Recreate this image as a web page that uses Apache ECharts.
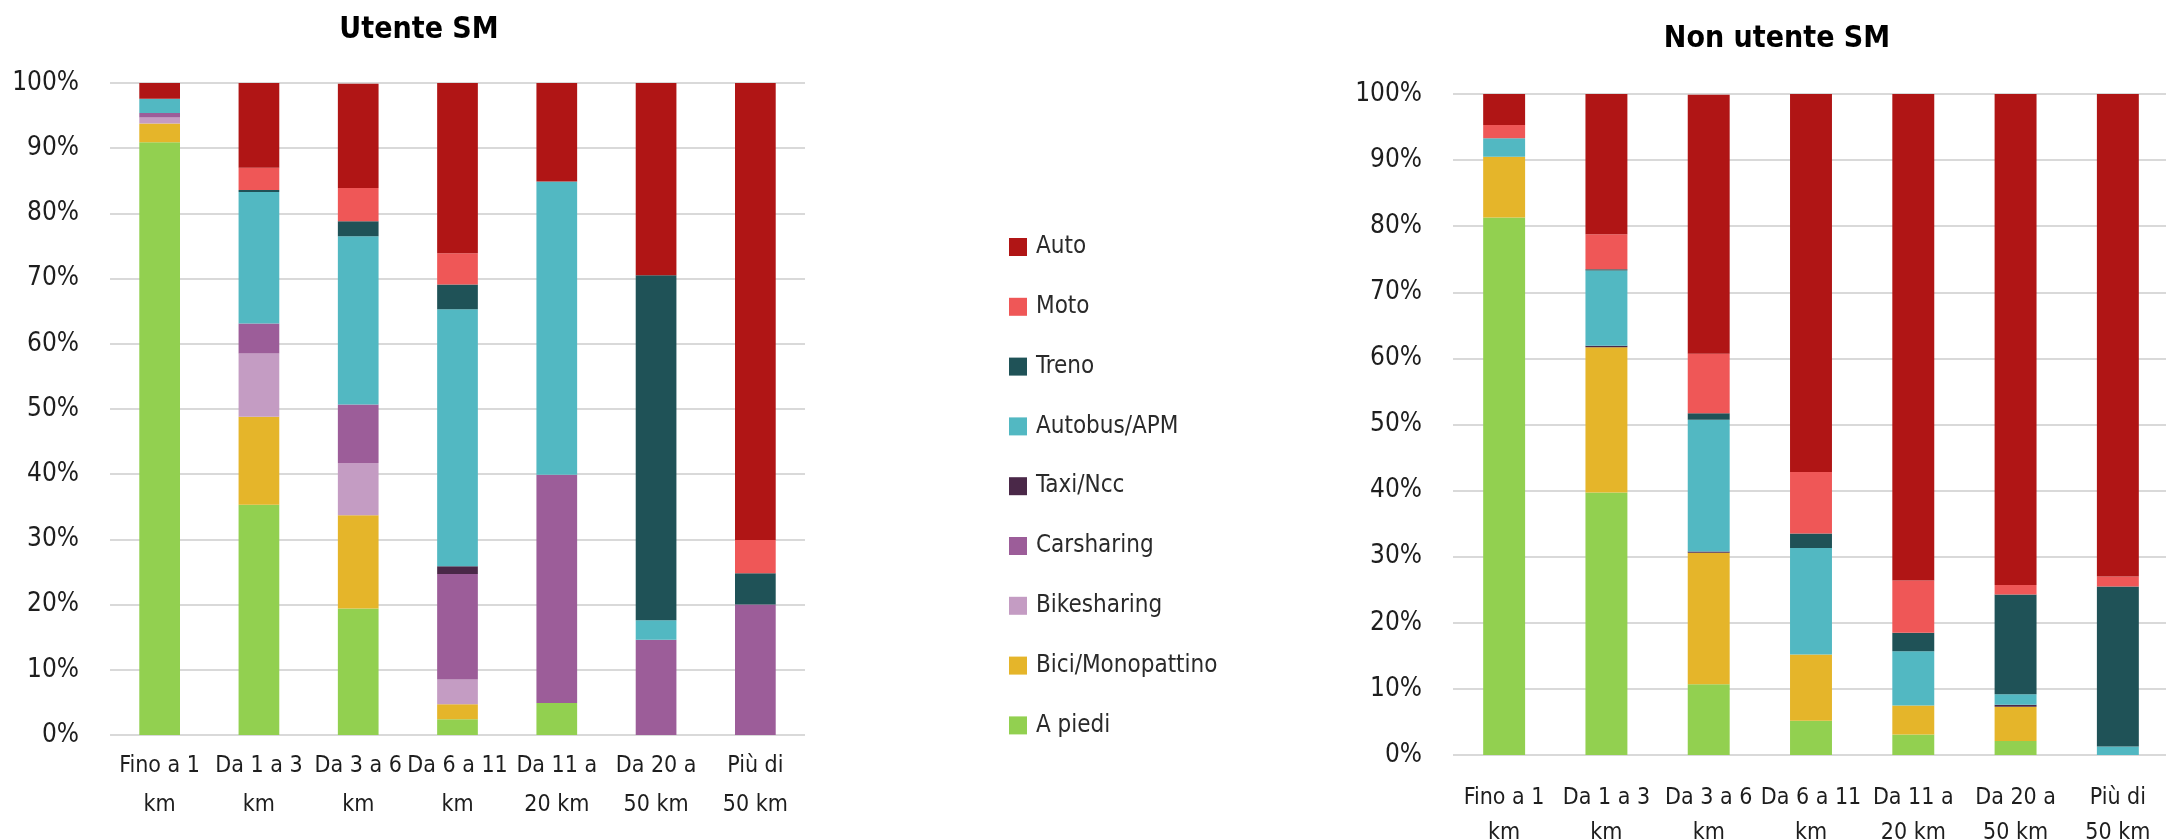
<!DOCTYPE html>
<html>
<head>
<meta charset="utf-8">
<script src="https://cdn.jsdelivr.net/npm/echarts@6/dist/echarts.min.js"></script>
<style>
html,body{margin:0;padding:0;background:#fff;}
#c{width:2166px;height:840px;}
</style>
</head>
<body>
<div id="c"></div>
<script>
// Categories (distance bands)
const categories = ['Fino a 1\nkm','Da 1 a 3\nkm','Da 3 a 6\nkm','Da 6 a 11\nkm','Da 11 a\n20 km','Da 20 a\n50 km','Più di\n50 km'];
const yTicks = [0,10,20,30,40,50,60,70,80,90,100];

// Modes, bottom to top of the stack
const modes = ['A piedi','Bici/Monopattino','Bikesharing','Carsharing','Taxi/Ncc','Autobus/APM','Treno','Moto','Auto'];
const modeColors = ['#92D050','#E5B52A','#C49CC3','#9C5D99','#4A2848','#52B8C2','#1F5257','#EF5757','#B01515'];
const legendOrder = ['Auto','Moto','Treno','Autobus/APM','Taxi/Ncc','Carsharing','Bikesharing','Bici/Monopattino','A piedi'];

// Utente SM (percent)
const utente_APiedi      = [90.9, 35.3, 19.4,  2.4,  4.9,  0.0,  0.0];
const utente_Bici        = [ 2.9, 13.5, 14.3,  2.3,  0.0,  0.0,  0.0];
const utente_Bikesharing = [ 0.9,  9.7,  8.0,  3.8,  0.0,  0.0,  0.0];
const utente_Carsharing  = [ 0.7,  4.6,  9.0, 16.2, 35.0, 14.6, 20.0];
const utente_Taxi        = [ 0.0,  0.0,  0.0,  1.2,  0.0,  0.0,  0.0];
const utente_Autobus     = [ 2.2, 20.2, 25.8, 39.4, 45.0,  3.0,  0.0];
const utente_Treno       = [ 0.0,  0.3,  2.3,  3.8,  0.0, 52.9,  4.8];
const utente_Moto        = [ 0.0,  3.4,  5.1,  4.8,  0.0,  0.0,  5.1];
const utente_Auto        = [ 2.4, 13.0, 16.0, 26.1, 15.1, 29.5, 70.1];

// Non utente SM (percent)
const non_APiedi      = [81.3, 39.7, 10.7,  5.2,  3.1,  2.1,  0.0];
const non_Bici        = [ 9.2, 22.0, 19.9, 10.0,  4.4,  5.2,  0.0];
const non_Bikesharing = [ 0.0,  0.0,  0.0,  0.0,  0.0,  0.0,  0.0];
const non_Carsharing  = [ 0.0,  0.0,  0.0,  0.0,  0.0,  0.0,  0.0];
const non_Taxi        = [ 0.0,  0.2,  0.2,  0.0,  0.0,  0.3,  0.0];
const non_Autobus     = [ 2.8, 11.4, 19.9, 16.1,  8.2,  1.6,  1.3];
const non_Treno       = [ 0.0,  0.2,  1.0,  2.2,  2.8, 15.1, 24.2];
const non_Moto        = [ 2.0,  5.3,  9.0,  9.3,  7.9,  1.4,  1.5];
const non_Auto        = [ 4.7, 21.2, 39.2, 57.2, 73.6, 74.3, 73.0];

const utenteData = [utente_APiedi,utente_Bici,utente_Bikesharing,utente_Carsharing,utente_Taxi,utente_Autobus,utente_Treno,utente_Moto,utente_Auto];
const nonData = [non_APiedi,non_Bici,non_Bikesharing,non_Carsharing,non_Taxi,non_Autobus,non_Treno,non_Moto,non_Auto];

const FONT = "'Liberation Sans Narrow','DejaVu Sans Condensed','Roboto Condensed',sans-serif";
const TXT = '#1e1e1e';

function xAxis(gi, margin, lh) {
  return {
    type: 'category', gridIndex: gi, data: categories,
    axisLine: {show: false}, axisTick: {show: false},
    axisLabel: {color: TXT, fontFamily: FONT, fontSize: 23, lineHeight: lh, margin: margin, interval: 0}
  };
}
function yAxis(gi) {
  return {
    type: 'value', gridIndex: gi, min: 0, max: 100, interval: 10,
    axisLine: {show: false}, axisTick: {show: false},
    axisLabel: {color: TXT, fontFamily: FONT, fontSize: 26, margin: 31, formatter: v => v + '%'},
    splitLine: {lineStyle: {color: '#d9d9d9', width: 2}}
  };
}

const series = [];
[utenteData, nonData].forEach((set, gi) => {
  modes.forEach((m, i) => {
    series.push({
      name: m, type: 'bar', stack: 'g' + gi, xAxisIndex: gi, yAxisIndex: gi,
      data: set[i], barWidth: '41%',
      itemStyle: {color: modeColors[i]},
      emphasis: {disabled: true}
    });
  });
});

const chart = echarts.init(document.getElementById('c'), null, {renderer: 'canvas'});
chart.setOption({
  animation: false,
  backgroundColor: '#ffffff',
  title: [
    {text: 'Utente SM', left: 414, top: 10, textAlign: 'center',
     textStyle: {fontFamily: FONT, fontWeight: 'bold', fontSize: 30, color: '#000'}},
    {text: 'Non utente SM', left: 1772, top: 19, textAlign: 'center',
     textStyle: {fontFamily: FONT, fontWeight: 'bold', fontSize: 30, color: '#000'}}
  ],
  legend: {
    orient: 'vertical', left: 1004, top: 230,
    data: legendOrder, itemWidth: 18, itemHeight: 18, itemGap: 35.8, icon: 'rect',
    selectedMode: false,
    textStyle: {fontFamily: FONT, fontSize: 24, color: '#2a2a2a', lineHeight: 20, padding: [0,0,0,4]}
  },
  grid: [
    {left: 110, top: 83, width: 695, height: 652, containLabel: false, outerBoundsMode: 'none'},
    {left: 1453, top: 94, width: 716, height: 661, containLabel: false, outerBoundsMode: 'none'}
  ],
  xAxis: [xAxis(0, 12, 39), xAxis(1, 26, 35)],
  yAxis: [yAxis(0), yAxis(1)],
  series: series
});
</script>
</body>
</html>
